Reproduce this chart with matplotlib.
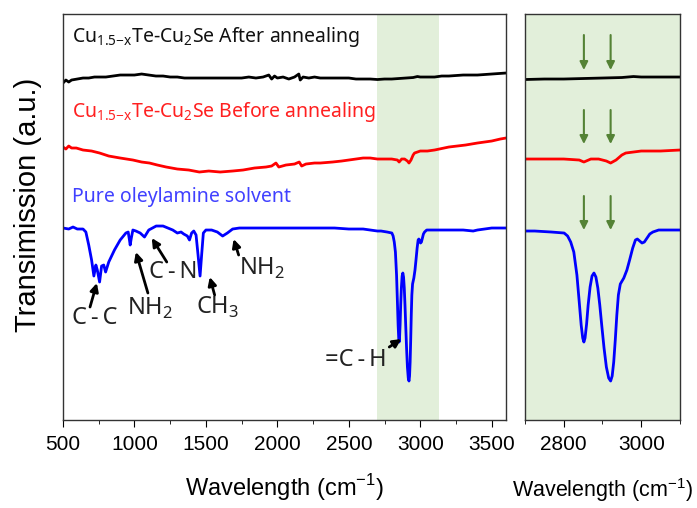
import matplotlib
matplotlib.use('Agg')
import matplotlib.pyplot as plt
from matplotlib.ticker import MultipleLocator

plt.rcParams['font.family'] = 'Liberation Sans'

# wavenumber (cm-1) and transmission (a.u., curves already offset)
wn_black = [500, 520, 540, 560, 600, 640, 680, 720, 760, 800, 850, 900, 950, 1000, 1050, 1100,
            1150, 1200, 1250, 1300, 1350, 1400, 1450, 1500, 1550, 1600, 1650, 1700, 1750, 1800,
            1850, 1900, 1940, 1960, 1980, 2000, 2040, 2080, 2120, 2150, 2160, 2180, 2220, 2260,
            2300, 2350, 2400, 2450, 2500, 2550, 2600, 2650, 2700, 2750, 2800, 2850, 2900, 2950,
            2980, 3000, 3050, 3100, 3150, 3200, 3300, 3400, 3500, 3600]
t_black = [337, 340, 338, 340, 341, 342, 342, 343, 343, 343, 344, 345, 345, 345, 346, 345,
           344, 344, 343, 343, 342, 342, 342, 342, 342, 342, 342, 342, 342, 343, 342, 343,
           345, 341, 344, 342, 343, 341, 343, 346, 340, 343, 342, 343, 342, 342, 342, 342,
           342, 341, 341, 341, 340.5, 341, 341, 341.5, 342, 342.5, 343.5, 343, 343, 343,
           344, 344, 345, 345, 346, 347]

wn_red = [500, 520, 540, 560, 593, 640, 700, 756, 820, 900, 989, 1050, 1105, 1160, 1222, 1300,
          1380, 1454, 1520, 1600, 1687, 1760, 1840, 1920, 1960, 1990, 2010, 2060, 2120, 2153,
          2170, 2200, 2260, 2300, 2386, 2450, 2500, 2550, 2600, 2650, 2700, 2750, 2800, 2840,
          2852, 2870, 2890, 2910, 2921, 2935, 2950, 2960, 3000, 3050, 3100, 3200, 3317, 3400,
          3500, 3560, 3600]
t_red = [273, 271, 274, 272, 272, 270, 269, 267, 264, 262, 260, 258, 257, 255, 253, 251,
         250, 248, 249, 248, 249, 250, 252, 253, 254, 257, 253, 255, 256, 258,
         254, 256, 257, 257, 258, 259, 260, 261, 262, 262, 261, 261, 261, 260,
         258, 261, 261, 259, 257, 260, 265, 267, 269, 269, 270, 273, 275, 277,
         279, 281, 282]

wn_blue = [500, 540, 570, 600, 640, 660, 680, 700, 716, 730, 740, 756, 770, 785, 798, 820, 860,
           900, 940, 956, 965, 970, 978, 989, 1010, 1040, 1070, 1100, 1152, 1200, 1268, 1300,
           1326, 1345, 1370, 1385, 1400, 1415, 1431, 1445, 1459, 1470, 1482, 1500, 1540, 1580,
           1617, 1650, 1687, 1734, 1800, 1900, 2000, 2100, 2200, 2300, 2400, 2500, 2600, 2650,
           2700, 2725, 2768, 2801, 2810, 2818, 2826, 2834, 2840, 2845, 2849, 2852, 2855, 2859,
           2863, 2868, 2873, 2878, 2883, 2888, 2893, 2898, 2904, 2910, 2916, 2921, 2925, 2929,
           2933, 2937, 2941, 2946, 2955, 2963, 2970, 2978, 2985, 2990, 2996, 3002, 3008, 3015,
           3022, 3030, 3045, 3060, 3100, 3200, 3300, 3370, 3400, 3450, 3500, 3600]
t_blue = [192, 191, 193, 191, 191, 188, 175, 160, 144, 155, 150, 138, 154, 155, 148, 158, 170,
          180, 187, 188, 180, 175, 182, 190, 189, 187, 183, 190, 194, 194, 190, 187,
          188, 186, 184, 180, 187, 189, 185, 165, 144, 165, 187, 190, 190, 188,
          184, 187, 191, 192, 192, 192, 192, 192, 192, 192, 192, 191, 191, 190,
          189, 189, 188, 187, 184, 178, 168, 145, 118, 95, 82, 78, 82, 96,
          115, 133, 144, 147, 143, 132, 115, 95, 72, 53, 42, 39, 44, 58,
          80, 105, 125, 136, 142, 150, 160, 172, 180, 181, 179, 177, 178, 182,
          186, 188, 190, 190, 190, 190, 190, 189, 190, 191, 192, 192]

# band assignments: label, label position, arrow tail, arrow tip
band_labels = ['C\u2009-\u2009C', 'NH$_\\mathregular{2}$', 'C\u2009-\u2009N', 'CH$_\\mathregular{3}$',
               'NH$_\\mathregular{2}$', '=C\u2009-\u2009H']
band_text_xy = [(720, 102), (1111, 112), (1272, 148), (1582, 113), (1893, 152), (2546, 60)]
band_tail = [(689, 113), (1094, 127), (1226, 158), (1561, 125), (1729, 165), (2783, 73)]
band_tip = [(737, 137), (1010, 168), (1121, 182), (1527, 143), (1694, 181), (2867, 81)]

# C-H stretching marks in the zoomed panel
ch_peaks = [2852, 2921]
mark_top = [385, 310, 224]
mark_bottom = [350, 276, 190]

green = '#e2efda'
fig = plt.figure(figsize=(6.97, 5.08), dpi=100)
ax = fig.add_axes([0.0904, 0.1732, 0.6356, 0.7992])
ax2 = fig.add_axes([0.7532, 0.1732, 0.2224, 0.7992])

ax.axvspan(2700, 3130, color=green, lw=0, zorder=0)
for a in [ax, ax2]:
    a.plot(wn_black, t_black, color='black', lw=2)
    a.plot(wn_red, t_red, color='red', lw=2)
    a.plot(wn_blue, t_blue, color='blue', lw=2)
    a.set_ylim(0, 406)
    a.set_yticks([])
    a.tick_params(axis='x', which='major', length=5, labelsize=15, pad=6, direction='out')
    a.tick_params(axis='x', which='minor', length=3, direction='out')
    for s in a.spines.values():
        s.set_color('#333333')
        s.set_linewidth(1)

ax.set_xlim(500, 3600)
ax.xaxis.set_major_locator(MultipleLocator(500))
ax.xaxis.set_minor_locator(MultipleLocator(250))
ax2.set_xlim(2700, 3100)
ax2.xaxis.set_major_locator(MultipleLocator(200))
ax2.xaxis.set_minor_locator(MultipleLocator(100))
ax2.set_facecolor(green)

ax.set_xlabel('Wavelength (cm$^\\mathregular{{-}1}$)', fontsize=17, labelpad=13)
ax2.set_xlabel('Wavelength (cm$^\\mathregular{{-}1}$)', fontsize=15.5, labelpad=16)
ax.set_ylabel('Transimission (a.u.)', fontsize=21, labelpad=15)
ax.yaxis.label.set_y(0.53)

tf = ['Noto Sans', 'DejaVu Sans']
ax.text(563, 383, 'Cu$_\\mathregular{1.5{-}x}$Te-Cu$_\\mathregular{2}$Se After annealing',
        color='#111111', fontsize=14, family=tf, va='center')
ax.text(563, 308, 'Cu$_\\mathregular{1.5{-}x}$Te-Cu$_\\mathregular{2}$Se Before annealing',
        color='#ff2020', fontsize=14, family=tf, va='center')
ax.text(563, 223, 'Pure oleylamine solvent', color='#4040ff', fontsize=14, family=tf, va='center')

for lab, xy, tail, tip in zip(band_labels, band_text_xy, band_tail, band_tip):
    ax.text(xy[0], xy[1], lab, fontsize=17, family=tf, ha='center', va='center', color='#222222')
    ax.annotate('', xy=tip, xytext=tail,
                arrowprops=dict(arrowstyle='-|>', color='black', lw=2, mutation_scale=12,
                                shrinkA=0, shrinkB=0))

for top, bot in zip(mark_top, mark_bottom):
    for p in ch_peaks:
        ax2.annotate('', xy=(p, bot), xytext=(p, top),
                     arrowprops=dict(arrowstyle='-|>', color='#548235', lw=1.5, mutation_scale=12,
                                     shrinkA=0, shrinkB=0))

fig.savefig('out.png', dpi=100)
